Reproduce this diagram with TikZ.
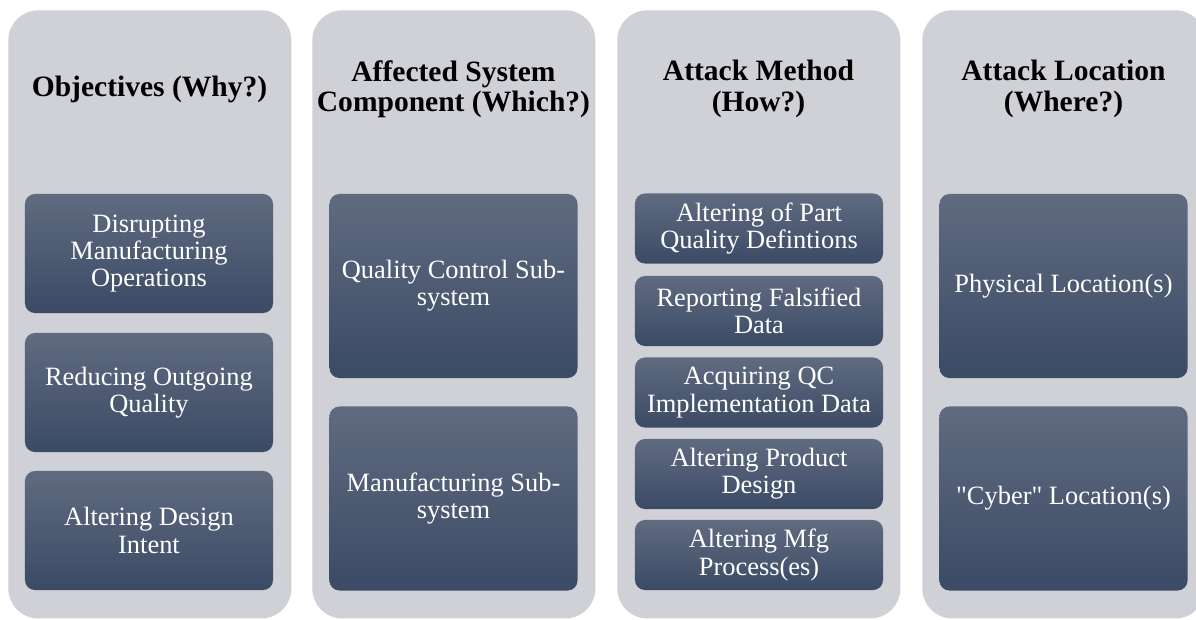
\documentclass[tikz,border=0pt]{standalone}
\usepackage{fontspec}
\setmainfont{Liberation Serif}
\definecolor{colgray}{RGB}{208,209,214}
\definecolor{boxtop}{RGB}{96,107,128}
\definecolor{boxmid}{RGB}{70,86,112}
\definecolor{boxbot}{RGB}{59,74,101}
\tikzset{
	column/.style={fill=colgray, rounded corners=0.75cm, inner sep=0pt, minimum width=7.075cm, minimum height=15.2cm, anchor=north west},
	title/.style={font=\bfseries\fontsize{21}{21.5}\selectfont, align=center, inner sep=0pt},
	item/.style={rounded corners=0.25cm, top color=boxtop, middle color=boxmid, bottom color=boxbot, text=white, font=\fontsize{18.8}{19.3}\selectfont, align=center, inner sep=0pt, minimum width=6.2cm}
}
\begin{document}
\begin{tikzpicture}[x=0.025cm, y=-0.025cm]
	\useasboundingbox (0,0) rectangle (1196,619);
	\clip (0,0) rectangle (1196,619);

	% columns
	\node [column] (why) at (8,10) {};
	\node [column] (which) at (312,10) {};
	\node [column] (how) at (617,10) {};
	\node [column] (where) at (922,10) {};

	% headings
	\node [title] (whyT) at (149.5,89) {Objectives (Why?)};
	\node [title] (whichT) at (453.5,89) {Affected System\\Component (Which?)};
	\node [title] (howT) at (758.5,89) {Attack Method\\(How?)};
	\node [title] (whereT) at (1063.5,89) {Attack Location\\(Where?)};

	% objectives
	\node [item, minimum height=2.975cm] (disrupt) at (149,253.5) {Disrupting\\Manufacturing\\Operations};
	\node [item, minimum height=2.975cm] (reduce) at (149,392.5) {Reducing Outgoing\\Quality};
	\node [item, minimum height=2.975cm] (intent) at (149,530.5) {Altering Design\\Intent};

	% components
	\node [item, minimum height=4.6cm] (qcsys) at (453.5,286) {Quality Control Sub-\\system};
	\node [item, minimum height=4.6cm] (mfgsys) at (453.5,498.5) {Manufacturing Sub-\\system};

	% methods
	\node [item, minimum height=1.75cm] (partdef) at (759,228.5) {Altering of Part\\Quality Defintions};
	\node [item, minimum height=1.75cm] (falsify) at (759,311) {Reporting Falsified\\Data};
	\node [item, minimum height=1.75cm] (qcdata) at (759,392.5) {Acquiring QC\\Implementation Data};
	\node [item, minimum height=1.75cm] (design) at (759,474) {Altering Product\\Design};
	\node [item, minimum height=1.75cm] (process) at (759,555) {Altering Mfg\\Process(es)};

	% locations
	\node [item, minimum height=4.6cm] (physical) at (1063.5,286) {Physical Location(s)};
	\node [item, minimum height=4.6cm] (cyber) at (1063.5,498.5) {\textquotedbl Cyber\textquotedbl{} Location(s)};
\end{tikzpicture}
\end{document}
